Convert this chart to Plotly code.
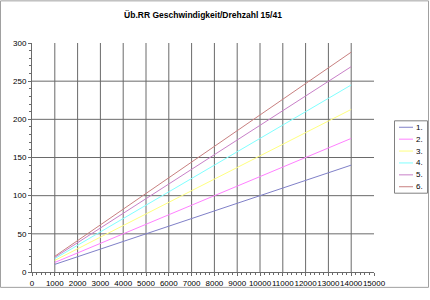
import plotly.graph_objects as go

# ---- data ----
rpm = [1000, 14000]
series_names = ["1.", "2.", "3.", "4.", "5.", "6."]
speed_1 = [10.0, 140.0]
speed_2 = [12.5, 175.0]
speed_3 = [15.2, 213.0]
speed_4 = [17.5, 245.0]
speed_5 = [19.2, 269.0]
speed_6 = [20.6, 288.0]
series_values = [speed_1, speed_2, speed_3, speed_4, speed_5, speed_6]
colors = ["#8080c8", "#ff80ff", "#ffff80", "#80ffff", "#c880c8", "#c88080"]

x_ticks = list(range(0, 15001, 1000))
y_ticks = list(range(0, 301, 50))
x_grid = list(range(1000, 15000, 1000))
y_grid = list(range(50, 300, 50))

W, H = 430, 300
L, R, T, B = 32, 374, 43, 274
FONT = "Arial, Liberation Sans, sans-serif"


def px_to_paper(px, py):
    return (px - L) / (R - L), (B - py) / (B - T)


fig = go.Figure()
for name, vals, col in zip(series_names, series_values, colors):
    fig.add_trace(go.Scatter(x=rpm, y=vals, mode="lines", name=name,
                             line=dict(color=col, width=1), showlegend=False))

shapes = []
grid_col = "#6a6a6a"
for gx in x_grid:
    shapes.append(dict(type="line", xref="x", yref="paper", x0=gx, x1=gx, y0=0, y1=1,
                       line=dict(color=grid_col, width=1), layer="below"))
for gy in y_grid:
    shapes.append(dict(type="line", xref="paper", yref="y", x0=0, x1=1, y0=gy, y1=gy,
                       line=dict(color=grid_col, width=1), layer="below"))

# outer frame
fx0, fy0 = px_to_paper(0.5, 289.5)
fx1, fy1 = px_to_paper(428.5, 0.5)
shapes.append(dict(type="rect", xref="paper", yref="paper", x0=fx0, y0=fy0, x1=fx1, y1=fy1,
                   line=dict(color="#a0a0a0", width=1), layer="below"))

# legend box (manual)
lx0, ly0 = px_to_paper(394.5, 194.5)
lx1, ly1 = px_to_paper(427.5, 121.5)
shapes.append(dict(type="rect", xref="paper", yref="paper", x0=lx0, y0=ly0, x1=lx1, y1=ly1,
                   line=dict(color="#808080", width=1), fillcolor="white", layer="above"))
annotations = []
for i, (name, col) in enumerate(zip(series_names, colors)):
    ypx = 128 + 12 * i
    sx0, sy = px_to_paper(399, ypx)
    sx1, _ = px_to_paper(413, ypx)
    shapes.append(dict(type="line", xref="paper", yref="paper", x0=sx0, x1=sx1, y0=sy, y1=sy,
                       line=dict(color=col, width=1), layer="above"))
    tx, _ = px_to_paper(414, ypx)
    annotations.append(dict(xref="paper", yref="paper", x=tx, y=sy, text=name, showarrow=False,
                            xanchor="left", yanchor="middle",
                            font=dict(family=FONT, size=8, color="#000000")))

fig.update_layout(
    width=W, height=H,
    margin=dict(l=L, r=W - R, t=T, b=H - B, pad=0),
    paper_bgcolor="white", plot_bgcolor="white",
    title=dict(text="<b>Üb.RR Geschwindigkeit/Drehzahl 15/41</b>", x=0.5, xref="paper",
               y=1 - 15 / H, yref="container", xanchor="center", yanchor="middle",
               font=dict(family=FONT, size=8.5, color="#000000")),
    font=dict(family=FONT, size=8, color="#000000"),
    shapes=shapes, annotations=annotations, showlegend=False,
    xaxis=dict(range=[0, 15000], tickvals=x_ticks, ticktext=[str(v) for v in x_ticks],
               tickangle=0,
               showgrid=False, zeroline=False, showline=True, linecolor="#6a6a6a", linewidth=1,
               ticks="outside", ticklen=3, tickcolor="#6a6a6a",
               minor=dict(dtick=200, ticks="outside", ticklen=2, tickcolor="#6a6a6a", showgrid=False),
               tickfont=dict(family=FONT, size=8, color="#000000")),
    yaxis=dict(range=[0, 300], tickvals=y_ticks, ticktext=[str(v) for v in y_ticks],
               showgrid=False, zeroline=False, showline=True, linecolor="#6a6a6a", linewidth=1,
               ticks="outside", ticklen=3, tickcolor="#6a6a6a",
               minor=dict(dtick=10, ticks="outside", ticklen=2, tickcolor="#6a6a6a", showgrid=False),
               tickfont=dict(family=FONT, size=8, color="#000000")),
)

fig.write_html("out.html")
